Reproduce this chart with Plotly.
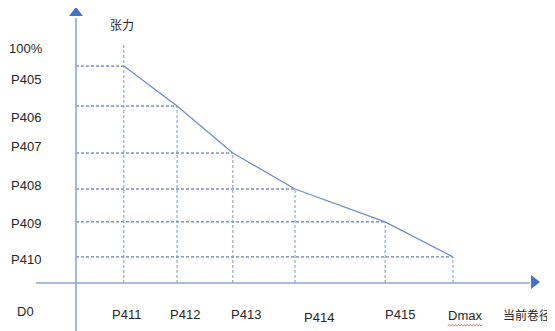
import plotly.graph_objects as go

# diameter points (Dmax = 100) and tension (100% = 100)
diam_labels = ['P411', 'P412', 'P413', 'P414', 'P415', 'Dmax']
diameter = [12.7, 26.8, 41.6, 58.1, 82.0, 100.0]
tension_labels = ['P405', 'P406', 'P407', 'P408', 'P409', 'P410']
tension = [92.3, 75.3, 55.3, 40.0, 26.0, 11.1]

# where the text labels sit (data units)
tension_label_y = [86.8, 70.6, 57.9, 41.7, 25.5, 10.2]
diam_label_x = [13.3, 28.9, 45.1, 64.5, 85.9, 103.2]
diam_label_y = [-13.6, -13.6, -13.6, -14.5, -13.2, -14.0]

AXIS = '#8EA5DB'
ARROW = '#4472C4'
CURVE = '#6F8DCF'
HDASH = '#3F5FA3'
VDASH = '#7F97CC'
TXT = '#262626'
FONT = 'Liberation Sans, Arial, sans-serif'
CJK = 'Noto Sans CJK SC, sans-serif'

fig = go.Figure()

# guide lines
for x, y in zip(diameter, tension):
    fig.add_trace(go.Scatter(x=[0, x], y=[y, y], mode='lines',
                             line=dict(color=HDASH, width=1, dash='3px,2px'),
                             hoverinfo='skip', showlegend=False))
for i, (x, y) in enumerate(zip(diameter, tension)):
    top = 102 if i == 0 else y
    fig.add_trace(go.Scatter(x=[x, x], y=[0, top], mode='lines',
                             line=dict(color=VDASH, width=1, dash='3px,2px'),
                             hoverinfo='skip', showlegend=False))

# axes
fig.add_trace(go.Scatter(x=[-10.6, 120.4], y=[0, 0], mode='lines',
                         line=dict(color=AXIS, width=1.6), showlegend=False))
fig.add_trace(go.Scatter(x=[0, 0], y=[-21, 112.8], mode='lines',
                         line=dict(color=AXIS, width=1.6), showlegend=False))
fig.add_trace(go.Scatter(x=[0], y=[114.9], mode='markers',
                         marker=dict(symbol='triangle-up', size=12, color=ARROW),
                         showlegend=False))
fig.add_trace(go.Scatter(x=[121.5], y=[0.4], mode='markers',
                         marker=dict(symbol='triangle-right', size=12, color=ARROW),
                         showlegend=False))

# tension curve
fig.add_trace(go.Scatter(x=diameter, y=tension, mode='lines',
                         line=dict(color=CURVE, width=1.3), showlegend=False))

# red spell-check squiggle under "Dmax"
sx, sy = [], []
x0 = diam_label_x[-1] - 4.6
for k in range(24):
    sx.append(x0 + k * 0.4)
    sy.append(diam_label_y[-1] - 4.0 + (0.35 if k % 2 else -0.35))
fig.add_trace(go.Scatter(x=sx, y=sy, mode='lines',
                         line=dict(color='#E05050', width=0.8),
                         hoverinfo='skip', showlegend=False))

ann = []
for lab, y in zip(['100%'] + tension_labels + ['D0'], [100] + tension_label_y + [-12.3]):
    ann.append(dict(x=-13.3, y=y, text=lab, showarrow=False,
                    font=dict(family=FONT, size=13, color=TXT)))
for lab, x, y in zip(diam_labels, diam_label_x, diam_label_y):
    ann.append(dict(x=x, y=y, text=lab, showarrow=False,
                    font=dict(family=FONT, size=13, color=TXT)))
ann.append(dict(x=119.6, y=-13.2, text='当前卷径', showarrow=False,
                font=dict(family=CJK, size=12, color=TXT)))
ann.append(dict(x=12.2, y=109.8, text='张力', showarrow=False,
                font=dict(family=CJK, size=12, color=TXT)))

# page body has an 8px margin, so the figure covers pixels 8..555 / 8..331
fig.update_layout(
    width=547, height=323,
    margin=dict(l=0, r=0, t=0, b=0),
    paper_bgcolor='white', plot_bgcolor='white',
    xaxis=dict(range=[-18.04, 127.06], visible=False),
    yaxis=dict(range=[-20.43, 117.02], visible=False),
    annotations=ann,
)

fig.write_html("out.html")
